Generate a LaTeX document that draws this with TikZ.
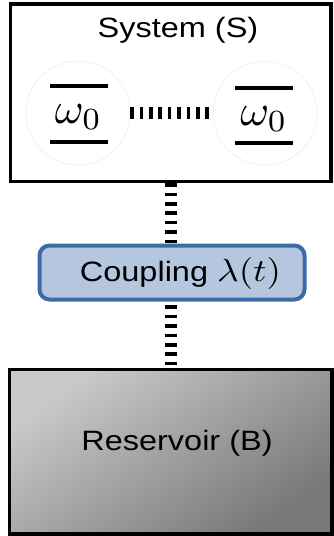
\documentclass[tikz,border=0pt]{standalone}
\usepackage{fontspec}
\setmainfont{Liberation Sans}
\usepackage{graphicx}
% math symbols drawn at 10pt and magnified
\newcommand{\bigmath}[2]{\scalebox{#1}{\fontsize{10}{12}\selectfont$#2$}}
\begin{document}
\begin{tikzpicture}[x=1pt,y=-1pt,
  frame/.style={draw=black, line width=3.5pt, inner sep=0pt},
  level/.style={line width=4.5pt, black},
  site/.style={circle, draw=blue!8!black!8, line width=0.5pt, minimum size=104pt, inner sep=0pt},
  link/.style={line width=12.5pt, black, dash pattern=on 3.6pt off 5.8pt},
  label/.style={inner sep=0pt, font=\fontsize{28}{32}\selectfont},
]
\definecolor{couplefill}{RGB}{180,199,222}
\definecolor{coupleedge}{RGB}{62,106,168}
\useasboundingbox (0,0) rectangle (334,536);

% system and reservoir frames
\node[frame, fill=white, minimum width=320.5pt, minimum height=177.5pt] (sys) at (170.75,92.75) {};
\node[frame, top color=black!21, bottom color=black!53, shading angle=35,
      minimum width=322.5pt, minimum height=164.5pt] (res) at (170.75,451.75) {};

% vertical coupling line, drawn under the coupling box
\draw[link] (sys.south) -- (res.north);

% coupling box
\node[draw=coupleedge, fill=couplefill, line width=4pt, rounded corners=10pt,
      minimum width=265pt, minimum height=54pt] (cpl) at (172,272.5) {};

% labels
\node[label] (syslab) at (178,30.5) {\scalebox{1.16}[1]{System (S)}};
\node[label] (reslab) at (177,443.5) {\scalebox{1.16}[1]{Reservoir (B)}};
\node[label] (cpllab) at (180.5,273.5) {\scalebox{1.16}[1]{Coupling \bigmath{3.2}{\lambda(t)}}};

% two-level sites
\node[site] (left) at (78,113) {};
\node[site] (right) at (265,113) {};
\node[inner sep=0pt] (wl) at (78.5,117) {\bigmath{4.4}{\omega_0}};
\node[inner sep=0pt] (wr) at (264,119) {\bigmath{4.4}{\omega_0}};
\draw[level] (50,86) -- (108,86);
\draw[level] (50,142) -- (108,142);
\draw[level] (235,88) -- (293,88);
\draw[level] (235,143) -- (293,143);

% exchange between the sites
\draw[link] (left.east) -- (right.west);
\end{tikzpicture}
\end{document}
